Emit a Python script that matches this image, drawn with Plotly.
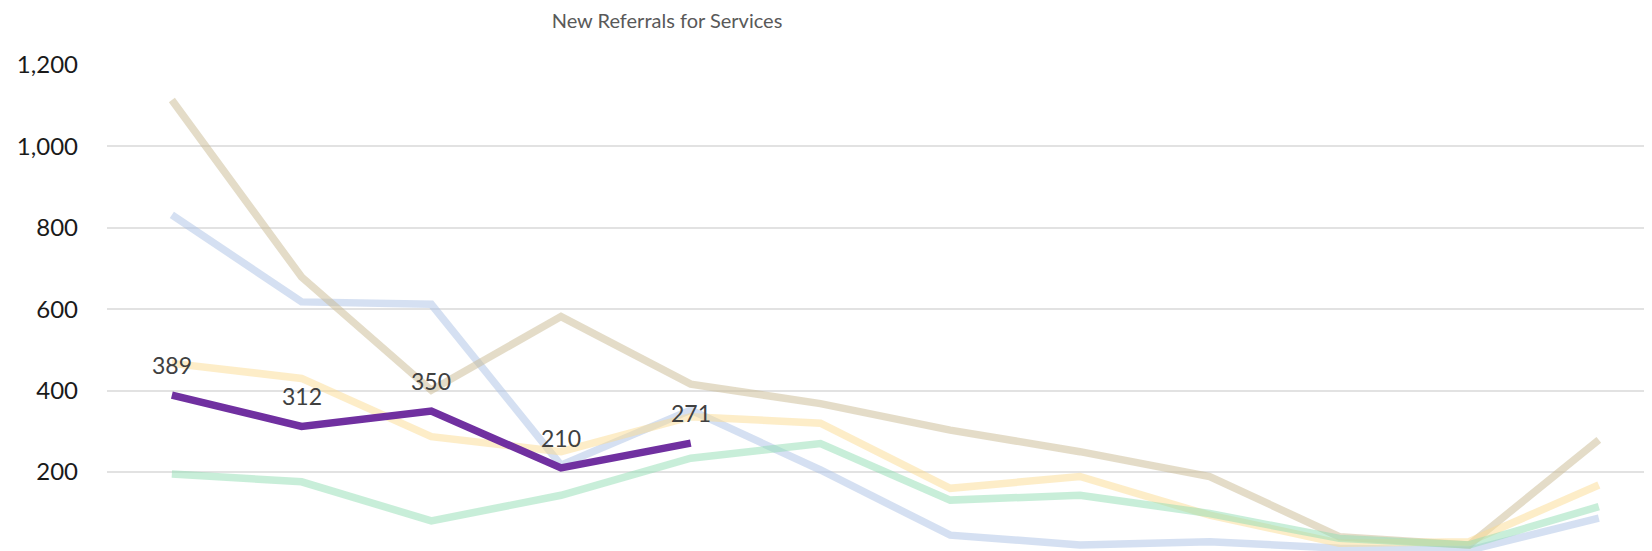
import plotly.graph_objects as go

months = ["Jul", "Aug", "Sep", "Oct", "Nov", "Dec", "Jan", "Feb", "Mar", "Apr", "May", "Jun"]

series_tan = [1114, 679, 401, 582, 416, 368, 303, 250, 189, 41, 21, 279]
series_blue = [832, 618, 612, 217, 352, 205, 45, 21, 29, 13, 8, 87]
series_yellow = [467, 430, 287, 250, 336, 320, 160, 189, 94, 25, 29, 168]
series_green = [195, 176, 80, 143, 234, 270, 131, 143, 98, 37, 21, 115]
current = [389, 312, 350, 210, 271]

y_ticks = [200, 400, 600, 800, 1000, 1200]
y_tick_text = ["200", "400", "600", "800", "1,000", "1,200"]

FONT = "Lato, 'Open Sans', sans-serif"
W, H = 1644, 543

fig = go.Figure()

faded = [
    (series_blue, "rgba(171,193,229,0.5)"),
    (series_tan, "rgba(201,185,145,0.5)"),
    (series_yellow, "rgba(251,219,145,0.5)"),
    (series_green, "rgba(145,221,179,0.5)"),
]
for vals, col in faded:
    fig.add_trace(go.Scatter(
        x=months, y=vals, mode="lines",
        line=dict(color=col, width=7.5),
        hoverinfo="skip", showlegend=False,
    ))

fig.add_trace(go.Scatter(
    x=months[:len(current)], y=current, mode="lines",
    line=dict(color="#7030a0", width=7.5),
    showlegend=False,
))

for m, v in zip(months, current):
    fig.add_annotation(
        x=m, y=v, text=str(v), showarrow=False, yshift=30,
        font=dict(family=FONT, size=23, color="#404040"),
    )

fig.update_layout(
    width=W, height=H,
    margin=dict(l=99, r=0, t=57, b=0),
    paper_bgcolor="white", plot_bgcolor="white",
    title=dict(
        text="New Referrals for Services",
        x=659 / W, xanchor="center", xref="container",
        y=1 - 13 / H, yanchor="middle", yref="container",
        font=dict(family=FONT, size=20, color="#595959"),
    ),
    xaxis=dict(
        type="category", categoryorder="array", categoryarray=months,
        range=[-0.5, 11.41], showticklabels=False, showgrid=False,
        zeroline=False, showline=False, ticks="",
    ),
    yaxis=dict(
        range=[6, 1200], tickvals=y_ticks, ticktext=y_tick_text,
        showgrid=True, gridcolor="#e2e2e2", gridwidth=2,
        zeroline=False, showline=False, ticks="",
        ticklabelstandoff=28,
        tickfont=dict(family=FONT, size=24, color="#1a1a1a"),
    ),
)

fig.write_html("out.html")
